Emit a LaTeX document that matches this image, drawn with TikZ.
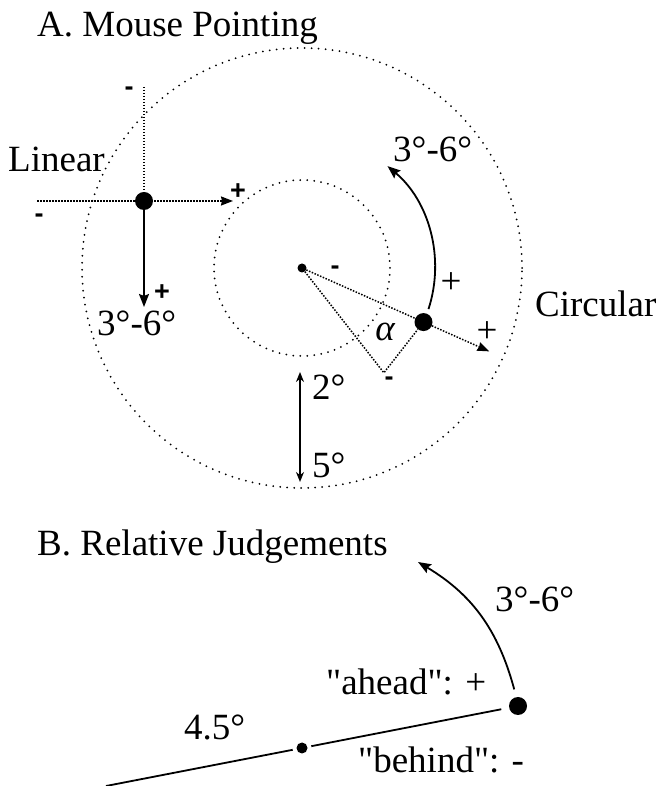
\documentclass[tikz,border=0pt]{standalone}
\usepackage{fontspec}
\newfontfamily\diagfont{Liberation Serif}
\newfontfamily\signfont{Liberation Sans}
\usetikzlibrary{positioning,arrows.meta,calc}

\begin{document}
\begin{tikzpicture}[
    x=1pt, y=1pt,
    font=\diagfont\fontsize{37}{44}\selectfont,
    label/.style={anchor=base west, inner sep=0pt},
    bigdot/.style={circle, fill=black, inner sep=0pt, minimum size=18pt},
    smalldot/.style={circle, fill=black, inner sep=0pt, minimum size=9pt},
    sign/.style={inner sep=0pt, font=\signfont\bfseries\fontsize{27}{32}\selectfont},
    ring/.style={line width=2pt, line cap=round, dash pattern=on 0pt off 7pt},
    guide/.style={line width=1.5pt, dash pattern=on 1.5pt off 1.5pt},
    move/.style={line width=1.8pt, -{Stealth[length=13pt, width=10pt, inset=2pt]}},
    guidetip/.style={-{Stealth[length=12pt, width=9pt, inset=1pt]}}
]
\useasboundingbox (0,0) rectangle (658,786);

% A. Mouse Pointing
\node[label] (titleA) at (37,749) {A. Mouse Pointing};
\node[smalldot] (ctr) at (302,518) {};
\draw[ring] (ctr.center) circle[radius=88];
\draw[ring] (ctr.center) circle[radius=220];

% linear condition
\node[label] (linear) at (8,614) {Linear};
\node[bigdot] (ldot) at (144,585) {};
\coordinate (ltop) at (144,699);
\coordinate (lleft) at (37,585);
\coordinate (lright) at (233,585);
\coordinate (ldown) at (144,479);
\draw[guide] (ltop) -- (ldot);
\draw[guide, guidetip] (lleft) -- (lright);
\draw[move] (ldot) -- (ldown);
\node[sign, anchor=base] (lminustop) at (129,690) {-};
\node[sign, anchor=base] (lminusleft) at (39,563) {-};
\node[sign] (lplusright) at (238,594) {+};
\node[sign] (lplusdown) at (162,493) {+};
\node[label] (lrange) at (97,450) {3°-6°};

% circular condition
\node[label] (circular) at (535,469) {Circular};
\node[bigdot] (cdot) at ($(ctr)+(-24:133)$) {};
\coordinate (cend) at ($(ctr)+(-24:205)$);
\coordinate (ccorner) at ($(ctr)+(-52:133)$);
\coordinate (arcstart) at ($(ctr)+(-18:133)$);
\draw[guide] (ctr) -- (cdot);
\draw[guide, guidetip] (cdot) -- (cend);
\draw[guide] (ctr) -- (ccorner) -- (cdot);
\draw[move] (arcstart) arc[start angle=-18, end angle=50, radius=133];
\node[label] (crange) at (393,624) {3°-6°};
\node[inner sep=0pt] (cplusarc) at (451,503) {+};
\node[inner sep=0pt] (cplusout) at (487,454) {+};
\node[sign, anchor=base] (cminusin) at (335,511) {-};
\node[sign, anchor=base] (cminuscorner) at (389,400) {-};
\node[inner sep=0pt] (alpha) at (385,454) {\itshape α};

% start distance
\coordinate (gapin) at (300,414);
\coordinate (gapout) at (300,304);
\draw[line width=1.8pt, {Stealth[length=10pt, width=8pt]}-{Stealth[length=10pt, width=8pt]}] (gapin) -- (gapout);
\node[label] (inner) at (312,386) {2°};
\node[label] (outer) at (312,308) {5°};

% B. Relative Judgements
\node[label] (titleB) at (37,230) {B. Relative Judgements};
\node[bigdot, outer sep=8pt] (tgt) at (518,80) {};
\node[smalldot, minimum size=11pt, outer sep=4pt] (ref) at (302,38) {};
\coordinate (foot) at (106,0);
\coordinate (ahead) at (418,224);
\draw[line width=1.8pt] (foot) -- (ref);
\draw[line width=1.8pt] (ref) -- (tgt);
\draw[move] (tgt) to[bend right=22] (ahead);
\node[label] (brange) at (495,174) {3°-6°};
\node[label] (aheadlbl) at (326,91) {"ahead": +};
\node[label] (dist) at (184,46) {4.5°};
\node[label] (behindlbl) at (358,13) {"behind": -};
\end{tikzpicture}
\end{document}
